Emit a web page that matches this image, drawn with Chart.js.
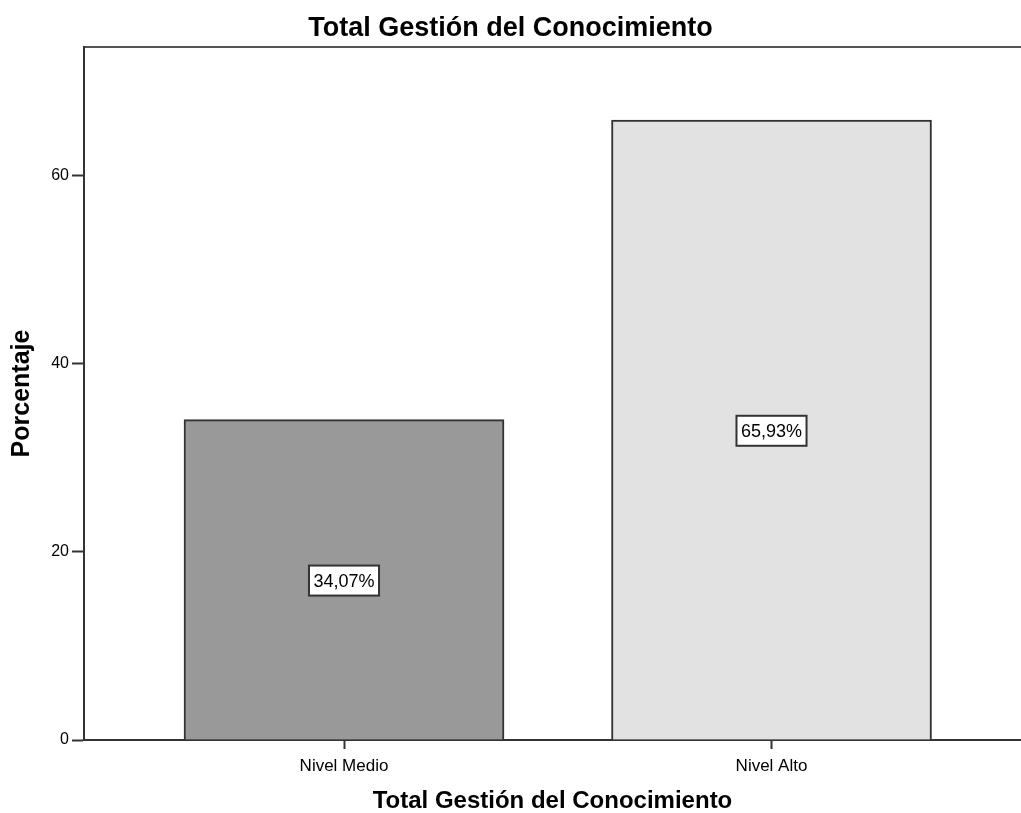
<!DOCTYPE html>
<html>
<head>
<meta charset="utf-8">
<script src="https://cdn.jsdelivr.net/npm/chart.js@4/dist/chart.umd.min.js"></script>
<style>
  html, body { margin: 0; padding: 0; background: #ffffff; overflow: hidden; }
  #wrap { width: 1021px; height: 813px; }
</style>
</head>
<body>
<div id="wrap"><canvas id="c" width="1021" height="813"></canvas></div>
<script>
// Categories and percentages
const categories = ['Nivel Medio', 'Nivel Alto'];
const percentages = [34.07, 65.93];
const barColors = ['#999999', '#e2e2e2'];
const yTickValues = [0, 20, 40, 60];

const titleText = 'Total Gestión del Conocimiento';
const xTitleText = 'Total Gestión del Conocimiento';
const yTitleText = 'Porcentaje';

const FONT = '"Liberation Sans", Arial, Helvetica, sans-serif';
const INK = '#333333';

// Boxed percentage label placed at the middle of each bar
const barValueLabels = {
  id: 'barValueLabels',
  afterDatasetsDraw(chart) {
    const ctx = chart.ctx;
    const meta = chart.getDatasetMeta(0);
    ctx.save();
    ctx.font = '18px ' + FONT;
    ctx.textAlign = 'center';
    ctx.textBaseline = 'middle';
    meta.data.forEach((bar, i) => {
      const { x, y, base } = bar.getProps(['x', 'y', 'base'], true);
      const cy = (y + base) / 2;
      const text = percentages[i].toFixed(2).replace('.', ',') + '%';
      const w = ctx.measureText(text).width + 9;
      const h = 30;
      ctx.fillStyle = '#ffffff';
      ctx.fillRect(x - w / 2, cy - h / 2 + 1, w, h);
      ctx.lineWidth = 2;
      ctx.strokeStyle = INK;
      ctx.strokeRect(x - w / 2, cy - h / 2 + 1, w, h);
      ctx.fillStyle = '#000000';
      ctx.fillText(text, x, cy + 2);
    });
    ctx.restore();
  }
};

new Chart(document.getElementById('c'), {
  type: 'bar',
  data: {
    datasets: [{
      data: categories.map((c, i) => ({ x: i, y: percentages[i] })),
      backgroundColor: barColors,
      borderColor: INK,
      borderWidth: 2,
      borderSkipped: 'start',
      barThickness: 320
    }]
  },
  options: {
    responsive: false,
    animation: false,
    layout: { padding: 0 },
    plugins: {
      legend: { display: false },
      tooltip: { enabled: false },
      title: {
        display: true,
        text: titleText,
        color: '#000000',
        font: { family: FONT, size: 27, weight: 'bold', lineHeight: 1.2 },
        padding: { top: 12, bottom: 2.6 }
      }
    },
    scales: {
      x: {
        type: 'linear',
        position: 'bottom',
        min: -0.6082,
        max: 1.5836,
        offset: false,
        afterBuildTicks(scale) { scale.ticks = categories.map((c, i) => ({ value: i })); },
        afterFit(scale) { scale.height = 73; scale.paddingLeft = 0; scale.paddingRight = 0; },
        ticks: {
          autoSkip: false,
          maxRotation: 0,
          padding: 7,
          color: '#000000',
          font: { family: FONT, size: 17 },
          callback: (v) => categories[v] ?? ''
        },
        grid: {
          display: true,
          offset: false,
          drawOnChartArea: false,
          drawTicks: true,
          tickLength: 9,
          tickWidth: 2,
          tickColor: INK
        },
        border: { display: true, color: INK, width: 2 },
        title: {
          display: true,
          text: xTitleText,
          color: '#000000',
          font: { family: FONT, size: 24, weight: 'bold', lineHeight: 1.0 },
          padding: { top: 0, bottom: 0 }
        }
      },
      xTop: {
        type: 'linear',
        position: 'top',
        min: 0,
        max: 1,
        afterFit(scale) { scale.height = 0; },
        ticks: { display: false },
        grid: { display: false, drawOnChartArea: false, drawTicks: false },
        border: { display: true, color: '#555555', width: 2 }
      },
      y: {
        type: 'linear',
        position: 'left',
        min: 0,
        max: 73.7,
        afterBuildTicks(scale) { scale.ticks = yTickValues.map(v => ({ value: v })); },
        afterFit(scale) { scale.width = 84; },
        ticks: {
          includeBounds: false,
          padding: 3,
          color: '#000000',
          font: { family: FONT, size: 16 }
        },
        grid: {
          display: true,
          drawOnChartArea: false,
          drawTicks: true,
          tickLength: 12,
          tickWidth: 2,
          tickColor: INK
        },
        border: { display: true, color: INK, width: 2 },
        title: {
          display: true,
          text: yTitleText,
          color: '#000000',
          font: { family: FONT, size: 25, weight: 'bold', lineHeight: 1.2 },
          padding: { top: 7, bottom: 0 }
        }
      }
    }
  },
  plugins: [barValueLabels]
});
</script>
</body>
</html>
